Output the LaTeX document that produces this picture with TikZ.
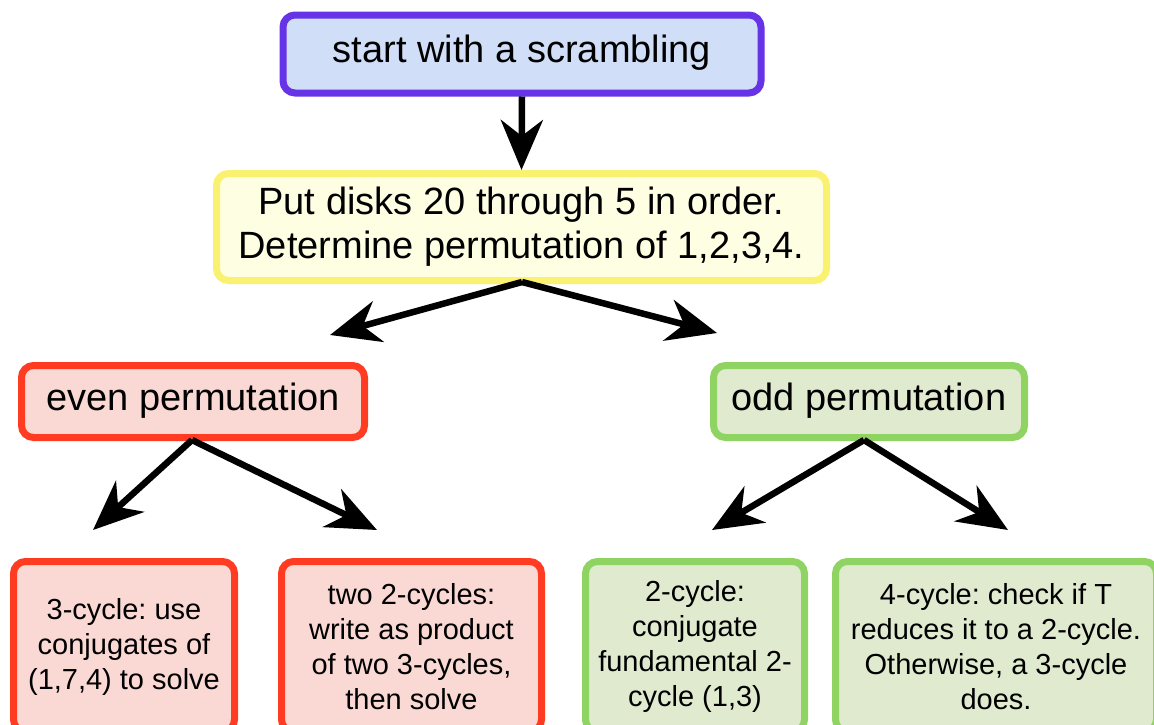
\documentclass[tikz,border=0pt]{standalone}
\usepackage{fontspec}
\setmainfont{Liberation Sans}
\usetikzlibrary{arrows.meta}
\frenchspacing
\definecolor{purpleB}{HTML}{6633E6}
\definecolor{purpleF}{HTML}{D0DEF8}
\definecolor{yellowB}{HTML}{FAF170}
\definecolor{yellowF}{HTML}{FEFEE2}
\definecolor{redB}{HTML}{FF3B21}
\definecolor{redF}{HTML}{FAD9D5}
\definecolor{greenB}{HTML}{8FD462}
\definecolor{greenF}{HTML}{E0EACF}
\tikzset{
  box/.style={draw, line width=7pt, rounded corners=12pt, inner sep=0pt, align=center, text=black},
  bigtext/.style={font=\fontsize{38}{44}\selectfont},
  smalltext/.style={font=\fontsize{29}{35}\selectfont},
  arr/.style={line width=6.5pt, -{Stealth[length=50pt, width=42pt, inset=16pt]}},
}
\begin{document}
\begin{tikzpicture}[x=1pt,y=-1pt]
\useasboundingbox (0,0) rectangle (1154,724);
\node[box, bigtext, draw=purpleB, fill=purpleF, minimum width=478pt, minimum height=78pt] (top) at (522,54) {\strut start with a scrambling};
\node[box, bigtext, draw=yellowB, fill=yellowF, minimum width=610pt, minimum height=107pt] (yel) at (521.5,227) {Put disks 20 through 5 in order.\\Determine permutation of 1,2,3,4.};
\node[box, bigtext, draw=redB, fill=redF, minimum width=343pt, minimum height=72pt] (even) at (193,401.5) {\strut even permutation};
\node[box, bigtext, draw=greenB, fill=greenF, minimum width=311pt, minimum height=72pt] (odd) at (869,401.5) {\strut odd permutation};
\node[box, smalltext, draw=redB, fill=redF, minimum width=221pt, minimum height=170pt] (b1) at (124,646.5) {3-cycle: use\\conjugates of\\(1,7,4) to solve};
\node[box, smalltext, draw=redB, fill=redF, minimum width=260pt, minimum height=170pt] (b2) at (411.5,646.5) {two 2-cycles:\\write as product\\of two 3-cycles,\\then solve};
\node[box, smalltext, draw=greenB, fill=greenF, minimum width=219pt, minimum height=170pt] (b3) at (695,646.5) {2-cycle:\\conjugate\\fundamental 2-\\cycle (1,3)};
\node[box, smalltext, draw=greenB, fill=greenF, minimum width=321pt, minimum height=170pt] (b4) at (996,646.5) {4-cycle: check if T\\reduces it to a 2-cycle.\\Otherwise, a 3-cycle\\does.};
\coordinate (tEven) at (330,335);
\coordinate (tOdd) at (717,333);
\coordinate (tB1) at (93,530);
\coordinate (tB2) at (377,530);
\coordinate (tB3) at (712,530);
\coordinate (tB4) at (1008,530);
\coordinate (sYel) at (522,282);
\coordinate (sEven) at (192,440);
\coordinate (sOdd) at (864,440);
\draw[arr] (top.south) -- (yel.north);
\draw[arr] (sYel) -- (tEven);
\draw[arr] (sYel) -- (tOdd);
\draw[arr] (sEven) -- (tB1);
\draw[arr] (sEven) -- (tB2);
\draw[arr] (sOdd) -- (tB3);
\draw[arr] (sOdd) -- (tB4);
\end{tikzpicture}
\end{document}
